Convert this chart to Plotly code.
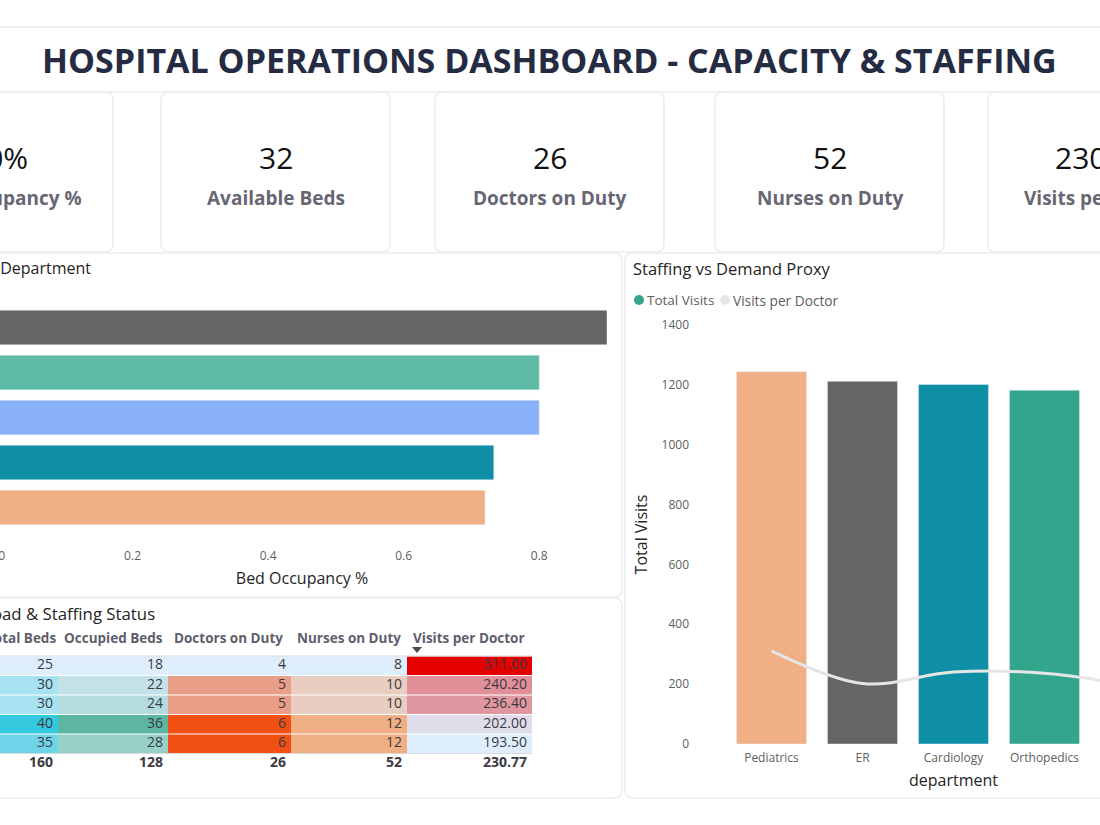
import plotly.graph_objects as go

# dashboard is wider than the screenshot, page is shifted left by OFF_X
W, H = 1400, 825
OFF_X = 170
FONT = "Open Sans, Noto Sans, sans-serif"

departments = ["Pediatrics", "ER", "Cardiology", "Orthopedics", "Neurology"]
total_visits = [1244, 1212, 1201, 1182, 1161]
visits_per_doctor = [311.0, 202.0, 240.2, 236.4, 193.5]

occ_departments = ["ER", "Orthopedics", "Neurology", "Cardiology", "Pediatrics"]
occ_values = [0.90, 0.80, 0.80, 0.733, 0.72]

table_departments = ["Pediatrics", "Cardiology", "Orthopedics", "ER", "Neurology"]
total_beds = [25, 30, 30, 40, 35]
occupied_beds = [18, 22, 24, 36, 28]
doctors = [4, 5, 5, 6, 6]
nurses = [8, 10, 10, 12, 12]
table_vpd = [311.00, 240.20, 236.40, 202.00, 193.50]
totals = ["160", "128", "26", "52", "230.77"]
table_headers = ["Total Beds", "Occupied Beds", "Doctors on Duty", "Nurses on Duty", "Visits per Doctor"]

kpi_values = ["80%", "32", "26", "52", "230.77"]
kpi_labels = ["Bed Occupancy %", "Available Beds", "Doctors on Duty", "Nurses on Duty", "Visits per Doctor"]

DEPT_COLOR = {"Pediatrics": "#F0AF85", "ER": "#666466", "Cardiology": "#0E8FA5",
              "Orthopedics": "#33A58D", "Neurology": "#8AB2FA"}
OCC_COLOR = dict(DEPT_COLOR, Orthopedics="#5DBBA5")
CARD_LINE = "#EDEBF0"
CELL_LOW = "#DFEEFC"
# table columns in page pixels: left edge of each column, then the right end
COL_EDGES = [-20, 58, 168, 291, 407, 532]
TABLE_LEFT = -118


def px(x):
    return (x + OFF_X) / W


def py(y):
    return 1 - y / H


def card(x0, y0, x1, y1, r=8):
    a, b = px(x0), px(x1)
    c, d = py(y0), py(y1)
    rx, ry = r / W, r / H
    path = (f"M{a + rx},{c} L{b - rx},{c} Q{b},{c} {b},{c - ry} L{b},{d + ry} "
            f"Q{b},{d} {b - rx},{d} L{a + rx},{d} Q{a},{d} {a},{d + ry} "
            f"L{a},{c - ry} Q{a},{c} {a + rx},{c} Z")
    return dict(type="path", path=path, xref="paper", yref="paper", line=dict(color=CARD_LINE, width=1.5),
                fillcolor="white", layer="below")


def hline(y, x0, x1, color, width=1):
    return dict(type="line", xref="paper", yref="paper", x0=px(x0), x1=px(x1), y0=py(y), y1=py(y),
                line=dict(color=color, width=width))


def label(x, y, text, size, color, xanchor="center"):
    return dict(x=px(x), y=py(y), xref="paper", yref="paper", text=text, showarrow=False,
                xanchor=xanchor, yanchor="middle", font=dict(size=size, color=color, family=FONT))


fig = go.Figure()

# occupancy bars
fig.add_bar(x=occ_values, y=occ_departments, orientation="h", width=0.77,
            marker_color=[OCC_COLOR[d] for d in occ_departments], xaxis="x", yaxis="y", showlegend=False)

# visits bars + line on the same axis
fig.add_bar(x=departments, y=total_visits, width=0.77, name="Total Visits",
            marker_color=[DEPT_COLOR[d] for d in departments], xaxis="x2", yaxis="y2", showlegend=False)
fig.add_scatter(x=departments, y=visits_per_doctor, mode="lines", name="Visits per Doctor",
                line=dict(color="#E6E6E6", width=3, shape="spline"), xaxis="x2", yaxis="y2", showlegend=False)

# status table: a bar trace per column so every column has its own gradient
columns = [(total_beds, "#35C9DF", "%d"), (occupied_beds, "#5DB6A1", "%d"), (doctors, "#F25012", "%d"),
           (nurses, "#F0AE84", "%d"), (table_vpd, "#E50000", "%.2f")]
for i, (vals, hi, fmt) in enumerate(columns):
    span = COL_EDGES[i + 1] - COL_EDGES[i]
    fig.add_bar(x=[span] * 5, base=COL_EDGES[i], y=table_departments, orientation="h", width=0.95,
                marker=dict(color=vals, colorscale=[[0, CELL_LOW], [1, hi]], line_width=0),
                xaxis="x3", yaxis="y3", showlegend=False, hoverinfo="skip")
    fig.add_scatter(x=[COL_EDGES[i + 1] - 5] * 6, y=table_departments + ["Total"], mode="text",
                    text=[fmt % v for v in vals] + ["<b>" + totals[i] + "</b>"], textposition="middle left",
                    textfont=dict(size=14, color="#3B3A42", family=FONT), xaxis="x3", yaxis="y3",
                    showlegend=False, hoverinfo="skip")
fig.add_scatter(x=[TABLE_LEFT + 8] * 6, y=table_departments + ["Total"], mode="text",
                text=table_departments + ["<b>Total</b>"], textposition="middle right",
                textfont=dict(size=14, color="#3B3A42", family=FONT), xaxis="x3", yaxis="y3",
                showlegend=False, hoverinfo="skip")

shapes = [card(-165, 27, 1260, 92, 0),
          card(-116, 92, 113, 252), card(161, 92, 390, 252), card(435, 92, 664, 252),
          card(715, 92, 944, 252), card(988, 92, 1217, 252),
          card(-160, 253, 622, 597), card(-160, 598, 622, 798), card(625, 253, 1225, 798)]
# legend dots, sort arrow and the rules of the table
for xc, color in [(639, "#33A58D"), (725, "#E6E6E6")]:
    shapes.append(dict(type="circle", xref="paper", yref="paper", x0=px(xc - 5), x1=px(xc + 5),
                       y0=py(305), y1=py(295), fillcolor=color, line_width=0))
shapes.append(dict(type="path", xref="paper", yref="paper", fillcolor="#4A4A50", line_width=0,
                   path=f"M{px(412)},{py(647)} L{px(422)},{py(647)} L{px(417)},{py(653)} Z"))
shapes.append(hline(656, TABLE_LEFT, 532, "#D9D9DE"))
shapes.append(hline(753.5, TABLE_LEFT, 532, "#D9D9DE"))

annotations = [label(550, 60, "<b>HOSPITAL OPERATIONS DASHBOARD - CAPACITY &amp; STAFFING</b>", 34, "#252B42")]
for xc, val, lab in zip([-2, 276, 550, 830, 1102], kpi_values, kpi_labels):
    annotations.append(label(xc, 157, val, 30, "#111111"))
    annotations.append(label(xc, 198, "<b>" + lab + "</b>", 19, "#686672"))
for i, h in enumerate(table_headers):
    annotations.append(label(COL_EDGES[i] + 4, 638, "<b>" + h + "</b>", 13.5, "#605E6C", "left"))
annotations.append(label(TABLE_LEFT + 4, 638, "<b>department</b>", 13.5, "#605E6C", "left"))
annotations += [
    label(93, 268, "Bed Occupancy by Department", 16, "#252423", "right"),
    label(631, 268, "Staffing vs Demand Proxy", 16.5, "#252423", "left"),
    label(157, 613, "Departmental Load &amp; Staffing Status", 16.8, "#252423", "right"),
    label(645, 300, "Total Visits", 13.5, "#605E5C", "left"),
    label(731, 300, "Visits per Doctor", 13.7, "#605E5C", "left"),
]

fig.update_layout(
    width=W, height=H, margin=dict(l=0, r=0, t=0, b=0), paper_bgcolor="white", plot_bgcolor="rgba(0,0,0,0)",
    font=dict(family=FONT, size=12, color="#605E5C"), barmode="overlay",
    shapes=shapes, annotations=annotations,
    # first tick nudged a few px so the cropped "0" stays in the frame
    xaxis=dict(domain=[px(-3), px(607)], range=[0, 0.9], tickvals=[0.007, 0.2, 0.4, 0.6, 0.8],
               ticktext=["0", "0.2", "0.4", "0.6", "0.8"], ticks="",
               automargin=False, showgrid=False, zeroline=False, showline=False, ticklabelstandoff=17,
               tickfont=dict(size=12, color="#605E5C"),
               title=dict(text="Bed Occupancy %", font=dict(size=16, color="#252423"), standoff=9)),
    yaxis=dict(domain=[py(530), py(305)], categoryorder="array", categoryarray=occ_departments,
               automargin=False, range=[4.5, -0.5], showgrid=False, zeroline=False, ticks="", tickfont=dict(size=12),
               title=dict(text="department", font=dict(size=16, color="#252423"))),
    xaxis2=dict(domain=[px(726), px(1181)], anchor="y2", categoryorder="array", categoryarray=departments,
                automargin=False, range=[-0.5, 4.5], showgrid=False, zeroline=False, ticks="",
                ticklabelstandoff=5, tickfont=dict(size=12),
                title=dict(text="department", font=dict(size=16, color="#252423"), standoff=9)),
    yaxis2=dict(domain=[py(744), py(325)], anchor="x2", range=[0, 1400], dtick=200, showgrid=False, zeroline=False,
                automargin=False, ticks="", ticklabelstandoff=36, tickfont=dict(size=12),
                title=dict(text="Total Visits", font=dict(size=16, color="#252423"), standoff=9)),
    xaxis3=dict(domain=[px(TABLE_LEFT), px(532)], anchor="y3", range=[TABLE_LEFT, 532], visible=False,
                automargin=False),
    yaxis3=dict(domain=[py(773), py(656)], anchor="x3", categoryorder="array",
                categoryarray=table_departments + ["Total"], range=[5.5, -0.5], visible=False, automargin=False),
)

fig.write_html("out.html", config={"displayModeBar": False}, post_script=(
    "document.body.style.margin='0';document.body.style.overflow='hidden';"
    f"document.getElementById('{{plot_id}}').style.marginLeft='-{OFF_X}px';"))
